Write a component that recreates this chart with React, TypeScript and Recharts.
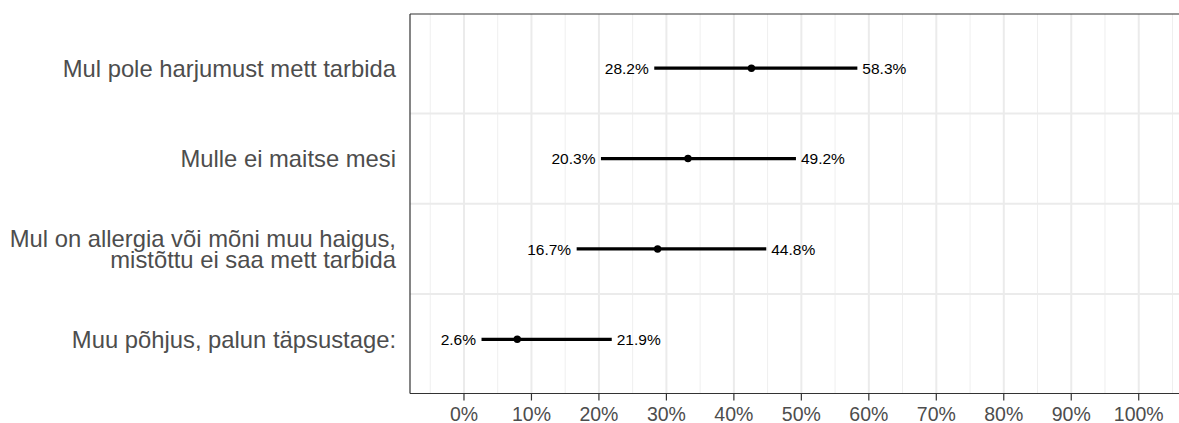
import React from 'react';
import {
  ScatterChart,
  Scatter,
  XAxis,
  YAxis,
  CartesianGrid,
  ReferenceLine,
} from 'recharts';

// Reasons, top to bottom
const categories = [
  'Mul pole harjumust mett tarbida',
  'Mulle ei maitse mesi',
  'Mul on allergia või mõni muu haigus,\nmistõttu ei saa mett tarbida',
  'Muu põhjus, palun täpsustage:',
];
const estimates = [42.6, 33.2, 28.7, 7.9];
const lowerBounds = [28.2, 20.3, 16.7, 2.6];
const upperBounds = [58.3, 49.2, 44.8, 21.9];

const majorTicks = [0, 10, 20, 30, 40, 50, 60, 70, 80, 90, 100];
const minorTicks = [-5, 5, 15, 25, 35, 45, 55, 65, 75, 85, 95, 105];
const rowSeparators = [1.5, 2.5, 3.5];

const FONT = '"Liberation Sans", Arial, Helvetica, sans-serif';
const pct = (v: number) => `${v.toFixed(1)}%`;

const pointData = estimates.map((x, i) => ({ x, y: i + 1 }));
const rangeData = categories.map((_, i) => [
  { x: lowerBounds[i], y: i + 1, side: 'low' },
  { x: upperBounds[i], y: i + 1, side: 'high' },
]);

const YTick = (props: any) => {
  const { x, y, payload } = props;
  const label = categories[payload.value - 1] ?? '';
  const lines = label.split('\n');
  const lh = 21.7;
  const start = -((lines.length - 1) * lh) / 2 + 8.5;
  return (
    <text x={x} y={y} textAnchor="end" fill="#4d4d4d" fontSize={23.8} fontFamily={FONT}>
      {lines.map((l: string, i: number) => (
        <tspan key={i} x={x} dy={i === 0 ? start : lh}>
          {l}
        </tspan>
      ))}
    </text>
  );
};

// end of an interval: no marker, only the value beside it
const EndLabel = (props: any) => {
  const { cx, cy, payload } = props;
  const low = payload.side === 'low';
  return (
    <text
      x={low ? cx - 5.5 : cx + 5}
      y={cy}
      dy="0.36em"
      textAnchor={low ? 'end' : 'start'}
      fill="#000"
      fontSize={15.5}
      fontFamily={FONT}
    >
      {pct(payload.x)}
    </text>
  );
};

const Dot = (props: any) => <circle cx={props.cx} cy={props.cy} r={3.7} fill="#000" />;

export default function App() {
  return (
    <div
      style={{
        position: 'absolute',
        left: 0,
        top: 0,
        width: 1179,
        height: 423,
        overflow: 'hidden',
        background: '#fff',
      }}
    >
      <ScatterChart width={1190} height={423} margin={{ top: 14, right: 0, bottom: 0, left: 0 }}>
        <CartesianGrid
          horizontal={false}
          verticalValues={minorTicks}
          stroke="#efefef"
          strokeWidth={1}
        />
        <CartesianGrid
          verticalValues={majorTicks}
          horizontalValues={rowSeparators}
          stroke="#ebebeb"
          strokeWidth={2}
        />
        <XAxis
          type="number"
          dataKey="x"
          domain={[-8, 107.6]}
          allowDataOverflow
          ticks={majorTicks}
          interval={0}
          tickFormatter={(v: number) => `${v}%`}
          height={29.5}
          axisLine={{ stroke: '#333333', strokeWidth: 1.2 }}
          tickLine={{ stroke: '#333333', strokeWidth: 1.2 }}
          tickSize={7}
          tickMargin={7}
          tick={{ fill: '#4d4d4d', fontSize: 19.5, fontFamily: FONT }}
        />
        <YAxis
          type="number"
          dataKey="y"
          domain={[0.4, 4.6]}
          reversed
          allowDataOverflow
          ticks={[1, 2, 3, 4]}
          interval={0}
          width={410}
          tickLine={false}
          tickSize={0}
          tickMargin={14}
          axisLine={{ stroke: '#333333', strokeWidth: 1.2 }}
          tick={<YTick />}
        />
        <ReferenceLine y={0.4} stroke="#333333" strokeWidth={1.2} />
        {rangeData.map((d, i) => (
          <Scatter
            key={i}
            data={d}
            line={{ stroke: '#000', strokeWidth: 3.3 }}
            shape={<EndLabel />}
            isAnimationActive={false}
          />
        ))}
        <Scatter data={pointData} shape={<Dot />} isAnimationActive={false} />
      </ScatterChart>
    </div>
  );
}
